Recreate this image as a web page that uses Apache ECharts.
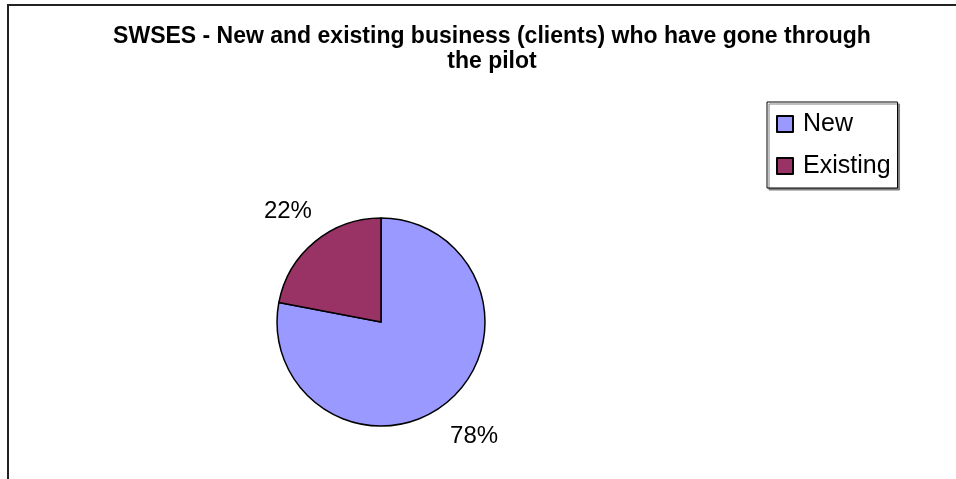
<!DOCTYPE html>
<html>
<head>
<meta charset="utf-8">
<script src="https://cdn.jsdelivr.net/npm/echarts@6/dist/echarts.min.js"></script>
<style>
html,body{margin:0;padding:0;background:#fff;}
#chart{width:956px;height:479px;}
</style>
</head>
<body>
<div id="chart"></div>
<script>
var titleText = 'SWSES - New and existing business (clients) who have gone through\nthe pilot';
var categories = ['New', 'Existing'];
var values = [78, 22];
var colors = ['#9999FF', '#993366'];

var chart = echarts.init(document.getElementById('chart'), null, {renderer: 'canvas'});

var pieData = categories.map(function (c, i) {
  return { name: c, value: values[i], itemStyle: { color: colors[i] } };
});
var labelData = categories.map(function (c, i) {
  return { name: c, value: values[i] };
});

var option = {
  backgroundColor: '#ffffff',
  animation: false,
  title: {
    text: titleText,
    left: 487,
    top: 19,
    textAlign: 'center',
    textStyle: {
      fontFamily: 'Liberation Sans, Arial, sans-serif',
      fontWeight: 'bold',
      fontSize: 23,
      lineHeight: 25,
      color: '#000'
    }
  },
  legend: {
    data: categories,
    orient: 'vertical',
    left: 767,
    top: 102,
    padding: [8, 7, 8, 9],
    itemWidth: 16,
    itemHeight: 16,
    itemGap: 14,
    icon: 'rect',
    backgroundColor: '#fff',
    borderColor: '#000',
    borderWidth: 1,
    borderRadius: 0,
    shadowColor: '#808080',
    shadowBlur: 0,
    shadowOffsetX: 2,
    shadowOffsetY: 2,
    selectedMode: false,
    textStyle: {
      fontFamily: 'Liberation Sans, Arial, sans-serif',
      fontSize: 25,
      lineHeight: 28,
      color: '#000',
      padding: [0, 0, 0, 5]
    }
  },
  graphic: [{
    type: 'polyline',
    silent: true,
    shape: { points: [[8, 490], [8, 5], [960, 5]] },
    style: { stroke: '#222', lineWidth: 2, fill: null }
  }],
  series: [{
    type: 'pie',
    center: [381, 322],
    radius: [0, 104],
    startAngle: 90,
    clockwise: true,
    silent: true,
    label: { show: false },
    labelLine: { show: false },
    itemStyle: { borderColor: '#000', borderWidth: 1.5 },
    data: pieData
  }, {
    type: 'pie',
    center: [381, 324],
    radius: [128, 158],
    startAngle: 90,
    clockwise: true,
    silent: true,
    itemStyle: { color: 'rgba(0,0,0,0)', borderWidth: 0 },
    emphasis: { disabled: true },
    labelLine: { show: false },
    label: {
      show: true,
      position: 'inside',
      formatter: '{d}%',
      fontFamily: 'Liberation Sans, Arial, sans-serif',
      fontSize: 24,
      color: '#000'
    },
    data: labelData
  }]
};
chart.setOption(option);
</script>
</body>
</html>
